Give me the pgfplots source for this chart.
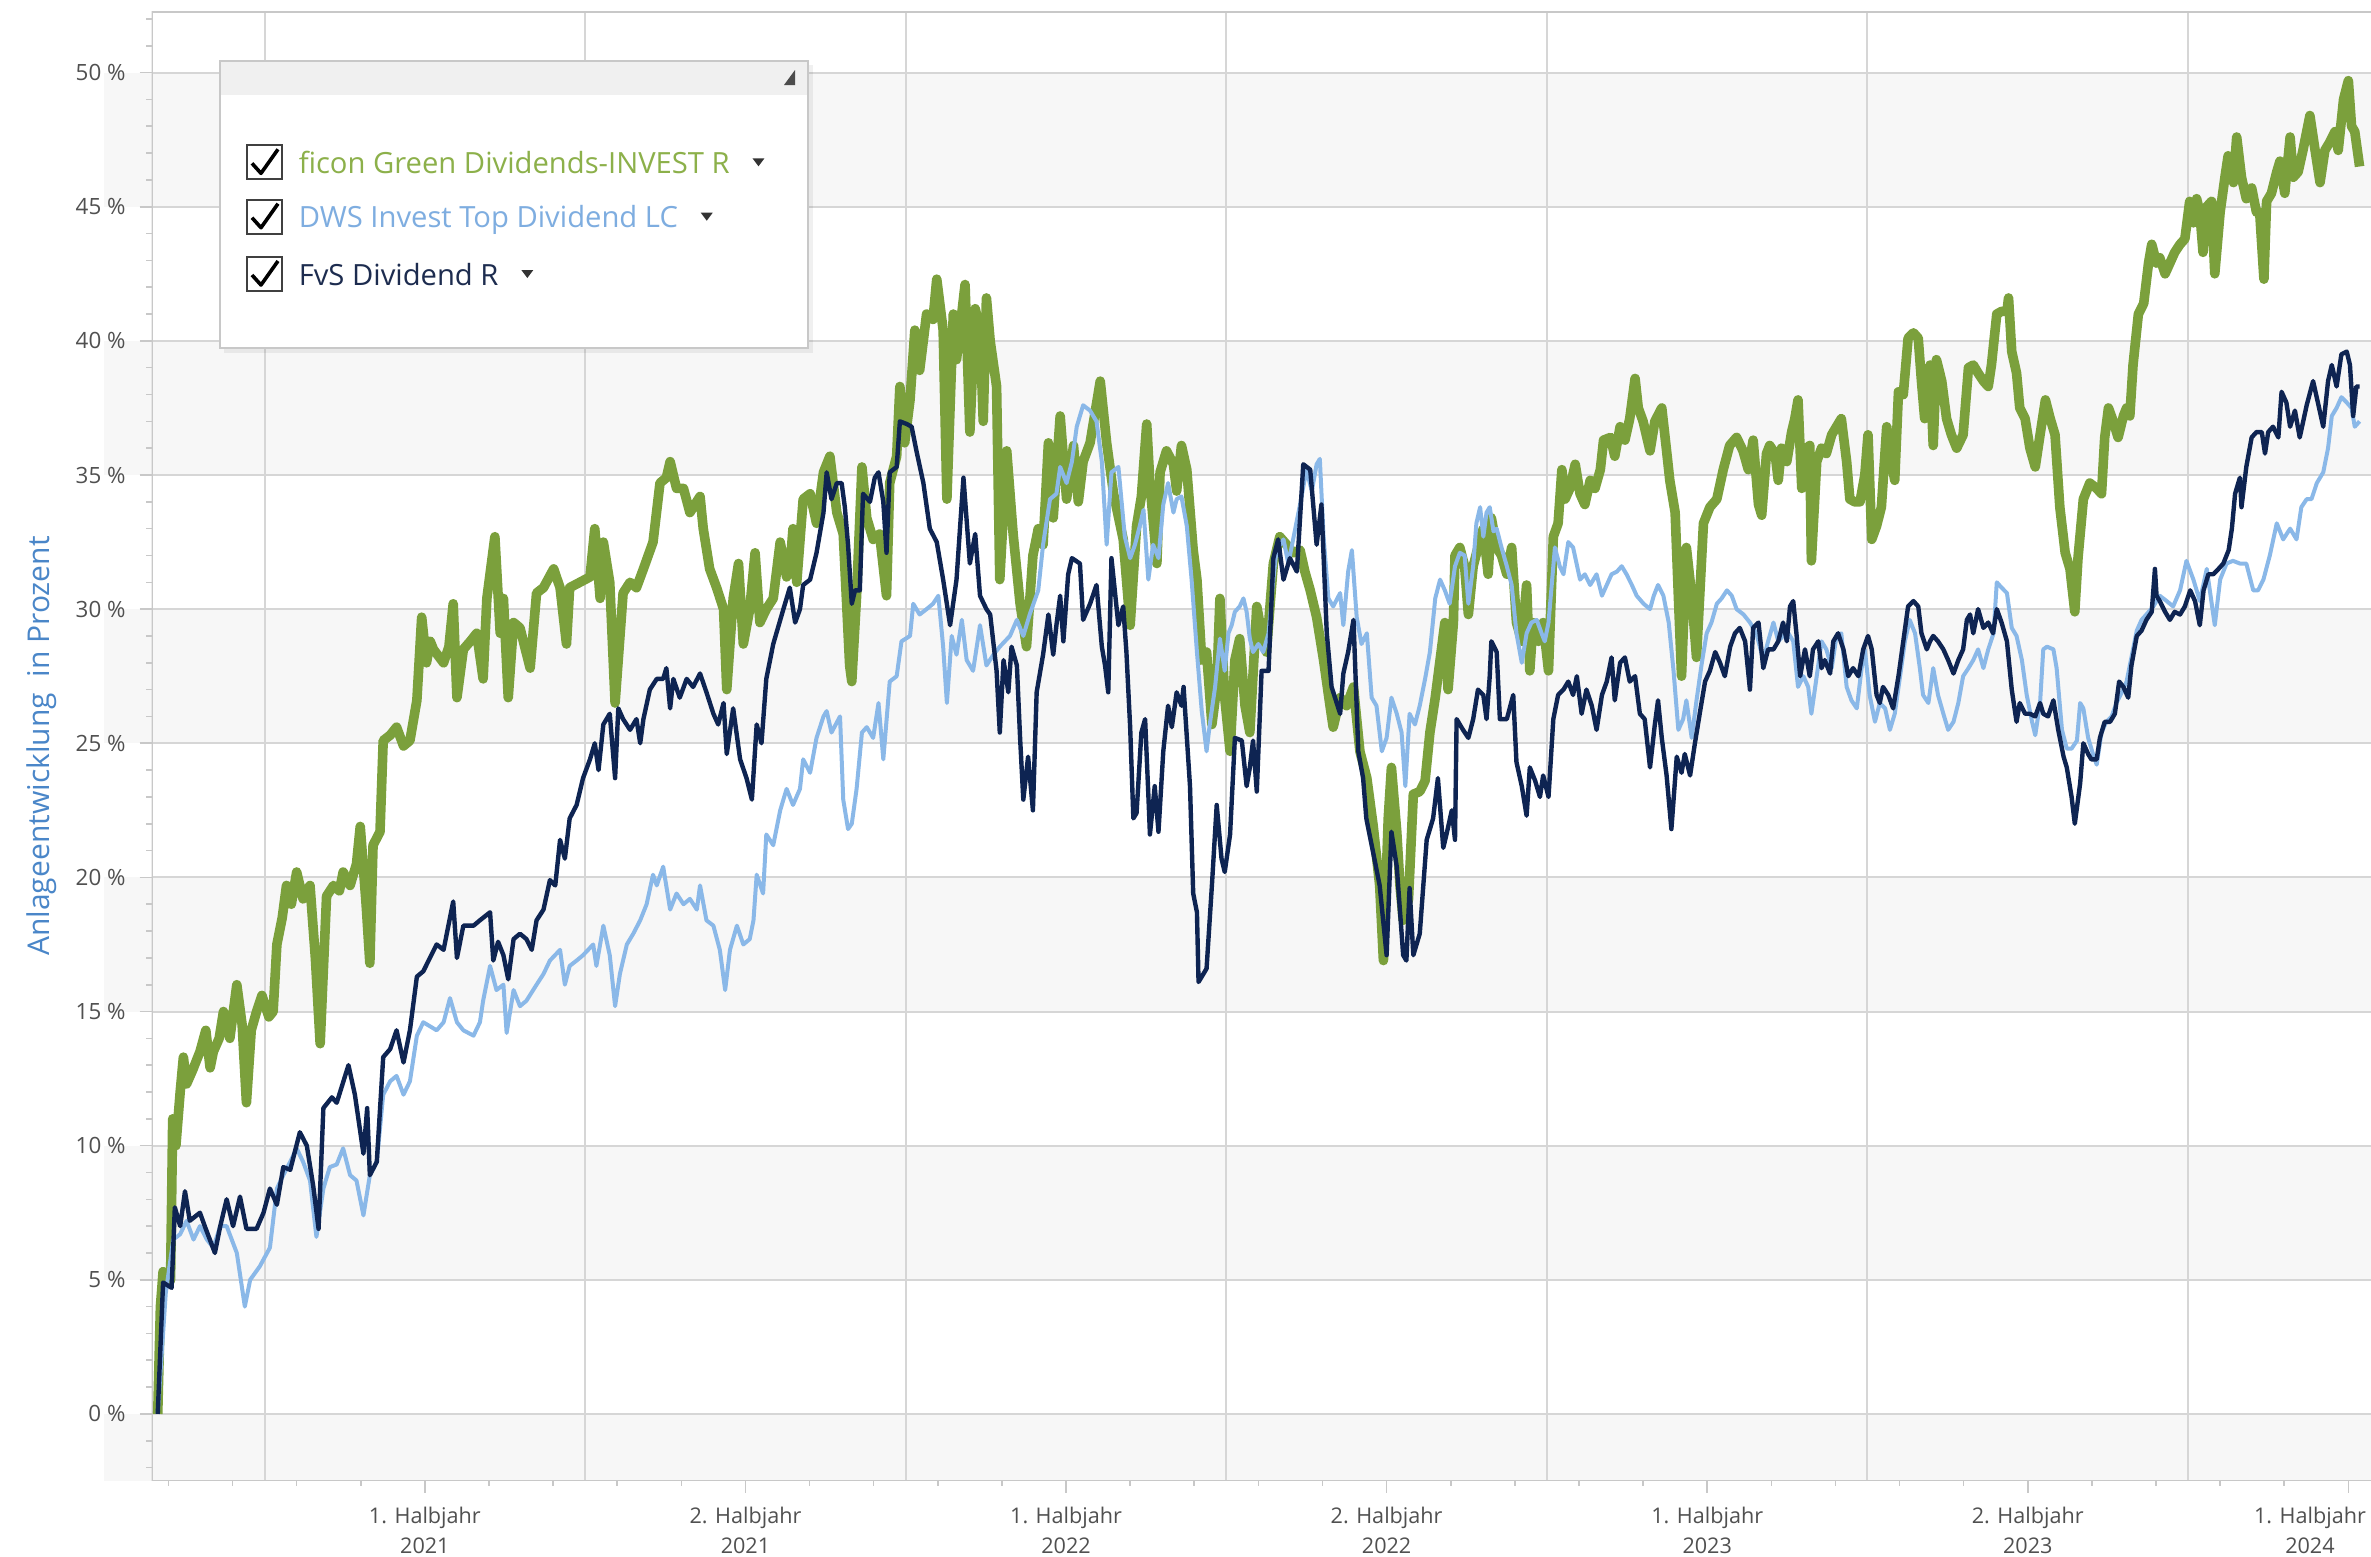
\documentclass[border=0pt]{standalone}
\usepackage{fontspec}
\setmainfont{Open Sans}
\usepackage{pgfplots}
\pgfplotsset{compat=1.18}
\usepackage{pgfplotstable}

\definecolor{gr}{RGB}{123,160,60}
\definecolor{lb}{RGB}{138,184,232}
\definecolor{nv}{RGB}{14,36,82}
\definecolor{gridc}{RGB}{214,214,214}
\definecolor{framec}{RGB}{200,200,200}
\definecolor{band}{RGB}{247,247,247}
\definecolor{ticklab}{RGB}{80,80,80}
\definecolor{ylab}{RGB}{74,134,200}
\definecolor{grtext}{RGB}{140,176,74}
\definecolor{lbtext}{RGB}{126,173,224}
\definecolor{nvtext}{RGB}{29,44,79}

% x: months since 1 Jan 2021, y: performance in percent
\pgfplotstableread{
m v
-2.00 0
-1.95 4.0
-1.90 5.3
-1.76 5.0
-1.72 11.0
-1.66 10.0
-1.58 12.0
-1.52 13.3
-1.46 12.3
-1.35 12.8
-1.21 13.5
-1.10 14.3
-1.02 12.9
-0.96 13.5
-0.85 14.0
-0.77 15.0
-0.65 14.0
-0.52 16.0
-0.42 14.5
-0.34 11.6
-0.25 14.3
-0.15 15.0
-0.05 15.6
0.08 14.8
0.16 15.0
0.23 17.5
0.33 18.5
0.41 19.7
0.50 19.0
0.60 20.2
0.72 19.2
0.85 19.7
0.95 17.0
1.04 13.8
1.16 19.3
1.29 19.7
1.40 19.5
1.47 20.2
1.60 19.7
1.72 20.5
1.79 21.9
1.90 19.0
1.97 16.8
2.03 21.2
2.16 21.7
2.22 25.1
2.35 25.3
2.47 25.6
2.60 24.9
2.72 25.1
2.85 26.6
2.94 29.7
3.03 28.0
3.10 28.8
3.16 28.5
3.35 28.0
3.45 28.6
3.53 30.2
3.60 26.7
3.72 28.5
3.85 28.8
3.97 29.1
4.09 27.4
4.16 30.4
4.31 32.7
4.41 29.1
4.47 30.4
4.56 26.7
4.66 29.5
4.78 29.3
4.97 27.8
5.09 30.6
5.22 30.8
5.41 31.5
5.53 30.8
5.65 28.7
5.71 30.8
5.90 31.0
6.09 31.2
6.18 33.0
6.28 30.4
6.34 32.5
6.46 31.0
6.56 26.5
6.71 30.6
6.84 31.0
6.96 30.8
7.09 31.5
7.27 32.5
7.40 34.7
7.52 34.9
7.59 35.5
7.71 34.5
7.84 34.5
7.96 33.6
8.15 34.2
8.21 33.0
8.33 31.5
8.46 30.8
8.59 30.0
8.65 27.0
8.77 30.4
8.87 31.7
8.96 28.7
9.08 30.0
9.18 32.1
9.27 29.5
9.39 30.0
9.52 30.4
9.65 32.5
9.77 31.2
9.83 31.5
9.89 33.0
9.96 31.0
10.08 34.1
10.21 34.3
10.33 33.2
10.46 35.1
10.58 35.7
10.71 33.6
10.83 32.8
10.95 27.9
10.99 27.3
11.08 30.5
11.18 35.3
11.27 33.4
11.39 32.6
11.51 32.8
11.64 30.5
11.70 34.7
11.83 35.7
11.89 38.3
11.98 36.2
12.08 37.8
12.17 40.4
12.26 38.9
12.39 41.0
12.51 40.8
12.58 42.3
12.70 40.4
12.77 34.1
12.89 41.0
12.95 39.3
13.11 42.1
13.20 36.6
13.30 41.2
13.39 40.4
13.45 37.0
13.51 41.6
13.58 40.0
13.70 38.3
13.76 31.1
13.89 35.9
14.01 32.8
14.14 30.2
14.26 28.6
14.38 32.0
14.48 33.0
14.57 32.4
14.67 36.2
14.76 33.4
14.89 37.2
15.01 34.1
15.14 36.1
15.23 34.0
15.32 35.5
15.45 36.2
15.64 38.5
15.76 36.2
15.89 34.3
16.07 32.6
16.20 29.4
16.32 33.1
16.41 34.2
16.51 36.9
16.57 34.7
16.70 31.7
16.76 35.1
16.88 35.9
17.01 35.4
17.07 34.4
17.16 36.1
17.26 35.2
17.38 32.2
17.45 31.1
17.54 28.1
17.63 28.4
17.73 25.7
17.82 27.1
17.88 30.4
17.97 26.7
18.07 24.7
18.16 28.1
18.25 28.9
18.35 26.4
18.44 25.4
18.57 30.1
18.66 29.1
18.75 28.4
18.88 31.7
18.94 32.2
19.00 32.7
19.13 32.4
19.25 32.1
19.38 32.2
19.47 31.4
19.57 30.7
19.69 29.7
19.82 28.1
19.94 26.4
20.00 25.6
20.13 26.7
20.25 26.4
20.38 27.1
20.50 24.7
20.63 23.7
20.75 21.9
20.87 19.7
20.94 16.9
21.03 22.2
21.09 24.1
21.19 21.7
21.25 19.7
21.31 18.4
21.41 19.2
21.50 23.1
21.62 23.2
21.72 23.6
21.81 25.4
21.91 26.7
22.00 28.1
22.09 29.5
22.15 27.0
22.25 29.5
22.28 32.0
22.37 32.3
22.46 31.6
22.53 29.8
22.62 31.6
22.71 32.3
22.81 33.0
22.90 31.3
22.96 33.4
23.06 32.3
23.15 32.0
23.25 31.3
23.34 32.3
23.43 29.5
23.53 28.8
23.62 30.9
23.68 27.7
23.74 29.5
23.84 28.8
23.93 29.5
24.03 27.7
24.12 32.7
24.21 33.2
24.28 35.2
24.34 34.1
24.43 34.5
24.53 35.4
24.62 34.3
24.71 33.9
24.81 34.8
24.90 34.5
25.00 35.2
25.06 36.3
25.19 36.4
25.27 35.7
25.37 36.8
25.46 36.3
25.55 37.1
25.65 38.6
25.71 37.5
25.80 37.0
25.93 35.9
26.02 37.0
26.15 37.5
26.24 35.9
26.30 34.8
26.40 33.6
26.46 30.5
26.52 27.5
26.61 32.3
26.71 30.5
26.80 28.2
26.86 30.5
26.93 33.2
27.05 33.8
27.18 34.1
27.30 35.2
27.42 36.1
27.55 36.4
27.67 35.9
27.77 35.2
27.86 36.3
27.96 33.9
28.02 33.5
28.11 35.8
28.17 36.1
28.27 35.8
28.33 34.8
28.39 36.0
28.49 35.5
28.58 36.6
28.64 37.1
28.70 37.8
28.77 34.5
28.86 36.0
28.92 36.1
28.95 31.8
29.05 35.5
29.14 36.0
29.23 35.8
29.33 36.5
29.42 36.8
29.51 37.1
29.61 35.5
29.67 34.1
29.76 34.0
29.86 34.0
29.95 35.0
30.01 36.5
30.08 32.6
30.17 33.1
30.26 33.8
30.36 36.8
30.42 35.8
30.51 34.8
30.58 38.1
30.67 38.0
30.76 40.1
30.86 40.3
30.95 40.1
31.01 38.5
31.07 37.1
31.17 39.1
31.23 36.1
31.29 39.3
31.39 38.5
31.48 37.1
31.57 36.5
31.67 36.0
31.79 36.5
31.89 39.0
31.98 39.1
32.07 38.8
32.17 38.5
32.26 38.3
32.32 39.1
32.42 41.0
32.51 41.1
32.61 41.1
32.64 41.6
32.70 39.6
32.79 38.8
32.85 37.5
32.95 37.1
33.04 36.0
33.14 35.3
33.23 36.5
33.33 37.8
33.42 37.1
33.51 36.5
33.60 33.8
33.70 32.1
33.79 31.5
33.88 29.9
33.94 31.9
34.04 34.1
34.16 34.7
34.29 34.5
34.38 34.3
34.44 36.4
34.51 37.5
34.60 37.0
34.69 36.4
34.79 37.2
34.85 37.5
34.91 37.2
34.97 39.1
35.07 41.0
35.17 41.4
35.26 42.9
35.32 43.6
35.41 42.9
35.47 43.1
35.57 42.5
35.66 42.9
35.75 43.3
35.85 43.6
35.94 43.8
36.03 45.2
36.10 44.4
36.16 45.3
36.22 44.8
36.28 43.3
36.35 45.0
36.44 45.2
36.50 42.5
36.60 44.8
36.69 46.1
36.75 46.9
36.85 45.9
36.91 47.6
37.00 46.1
37.09 45.3
37.19 45.7
37.28 44.8
37.34 44.8
37.42 42.3
37.47 45.2
37.56 45.5
37.66 46.3
37.72 46.7
37.81 45.5
37.91 47.6
37.97 46.1
38.06 46.3
38.15 47.1
38.28 48.4
38.37 47.2
38.47 45.9
38.56 47.1
38.65 47.4
38.75 47.8
38.81 47.1
38.91 49.0
39.00 49.7
39.06 48.0
39.12 47.8
39.21 46.5
}\ficon

\pgfplotstableread{
m v
-2.00 0
-1.93 2.1
-1.85 4.5
-1.71 6.5
-1.58 6.7
-1.46 7.2
-1.33 6.5
-1.21 7.0
-1.08 6.5
-0.96 6.2
-0.83 7.0
-0.71 7.0
-0.52 6.0
-0.37 4.0
-0.27 5.0
-0.09 5.5
0.10 6.2
0.23 8.4
0.35 8.9
0.48 9.4
0.60 9.9
0.72 9.4
0.85 8.7
0.97 6.6
1.10 8.4
1.22 9.2
1.35 9.3
1.47 9.9
1.60 8.9
1.72 8.7
1.85 7.4
1.97 8.9
2.10 9.4
2.22 11.9
2.35 12.4
2.47 12.6
2.60 11.9
2.72 12.4
2.85 14.1
2.97 14.6
3.22 14.3
3.35 14.6
3.47 15.5
3.60 14.6
3.72 14.3
3.91 14.1
4.03 14.6
4.09 15.4
4.22 16.7
4.34 15.8
4.47 16.0
4.53 14.2
4.66 15.8
4.78 15.2
4.90 15.4
5.09 16.0
5.22 16.4
5.34 16.9
5.53 17.3
5.62 16.0
5.71 16.7
5.84 16.9
5.96 17.1
6.15 17.5
6.21 16.7
6.34 18.2
6.46 17.1
6.56 15.2
6.65 16.4
6.78 17.5
6.90 17.9
7.03 18.4
7.15 19.0
7.27 20.1
7.34 19.7
7.46 20.4
7.59 18.8
7.71 19.4
7.84 19.0
7.96 19.2
8.09 18.8
8.15 19.7
8.27 18.4
8.40 18.2
8.52 17.3
8.62 15.8
8.71 17.3
8.84 18.2
8.96 17.5
9.08 17.7
9.15 18.4
9.21 20.1
9.33 19.4
9.39 21.6
9.52 21.2
9.65 22.5
9.77 23.3
9.89 22.7
10.02 23.3
10.08 24.4
10.21 23.9
10.33 25.2
10.46 26.0
10.52 26.2
10.61 25.4
10.77 26.0
10.83 22.9
10.92 21.8
10.99 22.0
11.08 23.3
11.18 25.4
11.27 25.6
11.39 25.2
11.49 26.5
11.58 24.4
11.70 27.3
11.83 27.5
11.92 28.8
12.08 29.0
12.14 30.2
12.26 29.8
12.39 30.0
12.51 30.2
12.61 30.5
12.70 28.6
12.77 26.5
12.86 29.0
12.95 28.3
13.05 29.6
13.14 28.1
13.26 27.7
13.39 29.4
13.51 27.9
13.64 28.3
13.76 28.6
13.95 29.0
14.08 29.6
14.20 29.0
14.32 29.8
14.48 30.7
14.57 32.4
14.70 34.1
14.82 34.3
14.89 35.3
15.01 34.7
15.11 35.5
15.20 36.8
15.32 37.6
15.45 37.4
15.57 37.0
15.67 35.5
15.76 32.4
15.85 35.1
15.98 35.3
16.10 32.7
16.20 31.9
16.29 32.4
16.38 33.1
16.45 33.7
16.54 31.1
16.63 32.4
16.73 31.9
16.82 33.9
16.91 34.7
17.01 33.6
17.07 34.1
17.16 34.2
17.26 33.1
17.35 31.1
17.45 28.4
17.54 26.2
17.63 24.7
17.69 25.7
17.79 27.1
17.88 28.9
17.97 27.7
18.04 29.1
18.10 29.4
18.16 29.9
18.25 30.1
18.32 30.4
18.38 29.9
18.44 28.9
18.50 28.4
18.60 28.7
18.69 28.4
18.79 29.1
18.88 31.1
18.94 32.2
19.07 32.6
19.16 31.7
19.25 32.6
19.38 33.9
19.50 35.2
19.60 34.4
19.69 35.4
19.75 35.6
19.82 32.7
19.91 30.4
20.00 30.1
20.13 30.6
20.19 29.4
20.28 31.4
20.35 32.2
20.44 29.7
20.53 28.7
20.63 29.1
20.72 26.7
20.81 26.4
20.91 24.7
21.00 25.2
21.09 26.7
21.19 26.1
21.28 25.4
21.35 23.4
21.43 26.1
21.53 25.7
21.62 26.4
21.72 27.4
21.81 28.4
21.91 30.4
22.00 31.1
22.09 30.7
22.18 30.2
22.28 31.6
22.37 32.1
22.46 32.0
22.53 30.2
22.62 31.6
22.68 33.2
22.75 33.8
22.81 32.7
22.87 33.6
22.93 33.8
23.00 32.9
23.06 33.0
23.15 32.3
23.25 31.6
23.34 30.9
23.43 29.1
23.53 28.0
23.62 29.1
23.71 29.5
23.81 29.6
23.90 29.1
23.96 28.8
24.03 29.5
24.09 30.9
24.15 32.3
24.24 31.6
24.31 31.3
24.40 32.5
24.49 32.3
24.62 31.1
24.71 31.3
24.81 30.9
24.93 31.3
25.03 30.5
25.12 30.9
25.21 31.3
25.31 31.4
25.40 31.6
25.49 31.3
25.59 30.9
25.68 30.5
25.81 30.2
25.93 30.0
26.00 30.5
26.08 30.9
26.18 30.5
26.28 29.5
26.37 27.7
26.46 25.5
26.55 25.9
26.61 26.6
26.71 25.2
26.80 26.6
26.90 28.0
26.99 29.1
27.08 29.5
27.18 30.2
27.27 30.4
27.37 30.7
27.46 30.5
27.55 30.0
27.68 29.8
27.80 29.5
27.92 29.1
28.05 28.1
28.14 28.8
28.24 29.5
28.33 28.8
28.42 29.0
28.52 29.1
28.61 28.8
28.70 27.1
28.80 27.5
28.89 27.1
28.95 26.1
29.05 27.5
29.14 28.8
29.23 28.5
29.33 27.8
29.42 29.0
29.51 29.1
29.61 27.1
29.70 26.6
29.80 26.3
29.89 27.8
29.95 28.5
30.04 26.8
30.14 25.8
30.23 26.5
30.33 26.3
30.42 25.5
30.51 26.1
30.61 27.5
30.70 28.8
30.79 29.6
30.89 29.1
30.98 27.8
31.04 26.8
31.14 26.5
31.23 27.8
31.32 26.8
31.42 26.1
31.51 25.5
31.61 25.8
31.70 26.5
31.79 27.5
31.89 27.8
31.98 28.1
32.07 28.5
32.17 27.8
32.26 28.5
32.36 29.1
32.42 31.0
32.51 30.8
32.61 30.6
32.70 29.3
32.79 29.0
32.89 28.1
32.98 26.8
33.08 25.8
33.14 25.3
33.23 26.5
33.29 28.5
33.36 28.6
33.48 28.5
33.54 27.8
33.64 25.5
33.73 24.8
33.82 24.8
33.92 25.1
33.98 26.5
34.04 26.3
34.13 25.2
34.22 24.6
34.29 24.2
34.38 25.4
34.47 25.8
34.57 26.0
34.66 26.5
34.76 26.9
34.85 27.3
34.94 28.2
35.04 29.2
35.13 29.6
35.22 29.8
35.35 30.1
35.47 30.5
35.60 30.3
35.72 30.1
35.85 30.7
35.97 31.8
36.10 31.1
36.22 30.3
36.35 31.5
36.50 29.4
36.60 31.1
36.72 31.7
36.84 31.8
36.97 31.7
37.09 31.7
37.22 30.7
37.31 30.7
37.41 31.1
37.53 32.0
37.66 33.2
37.78 32.6
37.91 33.0
38.03 32.6
38.12 33.8
38.22 34.1
38.31 34.1
38.41 34.7
38.53 35.1
38.62 36.0
38.69 37.2
38.78 37.5
38.87 37.9
38.97 37.7
39.06 37.5
39.12 36.8
39.21 37.0
}\dws

\pgfplotstableread{
m v
-2.00 0
-1.90 4.9
-1.74 4.7
-1.68 7.7
-1.58 7.0
-1.49 8.3
-1.40 7.2
-1.21 7.5
-1.12 7.0
-0.93 6.0
-0.83 7.0
-0.71 8.0
-0.59 7.0
-0.46 8.1
-0.34 6.9
-0.15 6.9
-0.02 7.5
0.10 8.4
0.23 7.8
0.35 9.2
0.48 9.1
0.66 10.5
0.79 10.0
0.91 8.5
1.01 6.9
1.10 11.4
1.26 11.8
1.35 11.6
1.57 13.0
1.69 11.9
1.85 9.7
1.92 11.4
1.97 8.9
2.10 9.4
2.22 13.3
2.35 13.6
2.47 14.3
2.60 13.1
2.72 14.3
2.85 16.3
2.97 16.5
3.22 17.5
3.35 17.3
3.53 19.1
3.60 17.0
3.72 18.2
3.91 18.2
4.03 18.4
4.22 18.7
4.28 16.9
4.37 17.6
4.47 17.1
4.56 16.2
4.66 17.7
4.78 17.9
4.90 17.7
5.00 17.3
5.09 18.4
5.22 18.8
5.34 19.9
5.44 19.7
5.53 21.4
5.62 20.7
5.71 22.2
5.84 22.7
5.96 23.7
6.09 24.4
6.18 25.0
6.25 24.0
6.34 25.7
6.46 26.1
6.56 23.7
6.62 26.3
6.71 25.9
6.84 25.5
6.96 25.9
7.03 25.0
7.09 25.9
7.21 27.0
7.34 27.4
7.46 27.4
7.52 27.8
7.59 26.3
7.65 27.4
7.77 26.7
7.90 27.4
8.02 27.1
8.15 27.6
8.27 26.9
8.40 26.1
8.49 25.7
8.59 26.5
8.65 24.6
8.77 26.3
8.90 24.4
9.02 23.7
9.12 22.9
9.21 25.7
9.30 25.0
9.39 27.4
9.52 28.7
9.71 30.0
9.83 30.8
9.93 29.5
10.02 30.0
10.08 30.9
10.21 31.1
10.33 32.1
10.46 33.6
10.52 35.1
10.61 34.1
10.71 34.7
10.80 34.7
10.86 33.8
10.92 32.4
10.99 30.2
11.05 30.7
11.14 30.7
11.20 34.3
11.33 34.0
11.42 34.9
11.49 35.1
11.58 34.0
11.64 32.1
11.70 35.1
11.83 35.3
11.89 37.0
12.02 36.9
12.11 36.8
12.20 35.9
12.33 34.7
12.45 33.0
12.58 32.5
12.70 31.1
12.83 29.4
12.95 31.1
13.08 34.9
13.20 31.7
13.30 32.8
13.39 30.5
13.51 30.0
13.58 29.8
13.70 27.7
13.76 25.4
13.83 28.1
13.92 26.9
13.98 28.6
14.08 27.9
14.14 25.2
14.20 22.9
14.29 24.5
14.38 22.5
14.45 26.9
14.57 28.3
14.67 29.8
14.76 28.3
14.82 29.4
14.89 30.5
14.95 28.8
15.04 31.3
15.11 31.9
15.26 31.7
15.32 29.6
15.45 30.2
15.57 30.9
15.67 28.6
15.73 27.9
15.79 26.9
15.85 31.9
15.98 29.4
16.07 30.1
16.13 28.4
16.20 25.6
16.26 22.2
16.32 22.4
16.41 25.4
16.48 25.9
16.54 23.1
16.57 21.6
16.66 23.4
16.73 21.7
16.82 24.7
16.91 26.4
16.98 25.6
17.07 26.9
17.16 26.4
17.20 27.1
17.32 23.4
17.38 19.4
17.45 18.7
17.48 16.1
17.63 16.6
17.73 19.7
17.82 22.7
17.91 20.7
17.97 20.2
18.07 21.6
18.16 25.2
18.29 25.1
18.38 23.4
18.44 24.1
18.50 25.1
18.57 23.2
18.66 27.7
18.79 27.7
18.88 31.9
18.97 32.6
19.07 31.1
19.19 31.9
19.32 31.4
19.44 35.4
19.57 35.2
19.69 32.4
19.78 33.9
19.88 29.1
19.97 27.1
20.13 26.1
20.19 27.6
20.28 28.4
20.38 29.6
20.47 24.7
20.56 23.7
20.62 22.2
20.75 20.9
20.87 19.7
21.00 17.1
21.09 21.7
21.19 20.4
21.31 17.1
21.37 16.9
21.43 19.6
21.50 17.1
21.62 17.9
21.75 21.4
21.87 22.2
21.96 23.7
22.06 21.1
22.12 21.6
22.22 22.5
22.28 21.4
22.31 25.9
22.43 25.5
22.53 25.2
22.62 25.9
22.71 27.0
22.81 26.8
22.87 25.9
22.93 27.5
22.96 28.8
23.06 28.4
23.12 25.9
23.25 25.9
23.37 26.8
23.43 24.3
23.53 23.4
23.62 22.3
23.68 24.1
23.78 23.6
23.87 23.0
23.93 23.8
24.03 23.0
24.12 25.9
24.21 26.8
24.31 27.0
24.40 27.3
24.49 26.8
24.56 27.5
24.65 26.1
24.74 27.0
24.84 26.4
24.93 25.5
25.03 26.8
25.12 27.3
25.21 28.2
25.27 26.6
25.37 28.0
25.46 28.2
25.55 27.3
25.65 27.5
25.74 26.1
25.83 25.9
25.93 24.1
26.02 25.7
26.08 26.6
26.15 25.2
26.24 23.8
26.33 21.8
26.43 24.5
26.52 23.9
26.58 24.6
26.68 23.8
26.77 25.0
26.86 26.1
26.96 27.3
27.05 27.7
27.15 28.4
27.24 28.0
27.33 27.5
27.43 28.6
27.52 29.1
27.61 29.3
27.71 28.8
27.80 27.0
27.86 29.3
27.96 29.5
28.05 27.8
28.14 28.5
28.24 28.5
28.33 28.8
28.42 29.5
28.49 28.8
28.55 30.1
28.61 30.3
28.67 29.1
28.74 27.5
28.83 28.5
28.92 27.5
28.98 28.5
29.08 28.8
29.14 27.8
29.20 28.1
29.30 27.6
29.36 28.8
29.45 29.1
29.55 28.5
29.64 27.5
29.73 27.8
29.83 27.5
29.92 28.5
30.01 29.0
30.08 28.5
30.17 26.8
30.23 26.5
30.29 27.1
30.39 26.8
30.48 26.3
30.58 27.5
30.67 28.8
30.76 30.1
30.86 30.3
30.95 30.1
31.01 29.1
31.11 28.5
31.17 28.8
31.23 29.0
31.32 28.8
31.42 28.5
31.51 28.1
31.61 27.6
31.70 28.1
31.79 28.5
31.86 29.6
31.92 29.8
31.98 29.1
32.07 30.0
32.17 29.3
32.26 29.5
32.35 29.1
32.42 30.0
32.51 29.5
32.61 28.8
32.70 27.0
32.79 25.8
32.85 26.5
32.95 26.1
33.04 26.1
33.14 26.0
33.23 26.5
33.29 26.1
33.38 26.0
33.48 26.6
33.57 25.5
33.67 24.5
33.73 24.1
33.82 23.0
33.88 22.0
33.98 23.5
34.04 25.0
34.13 24.6
34.19 24.4
34.29 24.4
34.35 25.2
34.44 25.8
34.54 25.8
34.63 26.1
34.71 27.3
34.79 27.1
34.88 26.7
34.94 27.9
35.04 29.0
35.13 29.2
35.22 29.6
35.32 29.9
35.38 31.5
35.41 30.5
35.47 30.3
35.57 29.9
35.66 29.6
35.75 29.9
35.85 29.8
35.94 30.1
36.04 30.7
36.13 30.3
36.22 29.4
36.29 30.7
36.38 31.3
36.47 31.3
36.57 31.5
36.66 31.7
36.76 32.2
36.82 33.0
36.88 34.3
36.97 34.9
37.00 33.8
37.09 35.3
37.19 36.4
37.28 36.6
37.38 36.6
37.44 35.8
37.50 36.6
37.59 36.8
37.69 36.4
37.75 38.1
37.84 37.7
37.91 36.8
38.00 37.4
38.09 36.4
38.22 37.6
38.34 38.5
38.43 37.7
38.53 36.8
38.62 38.5
38.69 39.1
38.78 38.3
38.87 39.5
38.97 39.6
39.03 39.1
39.09 37.2
39.15 38.3
39.21 38.3
}\fvs

\begin{document}
\begin{tikzpicture}
\begin{axis}[
  set layers=standard,
  at={(37.925pt,-370.175pt)}, anchor=south west,
  scale only axis, width=554.825pt, height=367.25pt,
  xmin=-2.113, xmax=39.424, ymin=-2.49, ymax=52.27,
  axis line style={draw=none},
  tick align=outside,
  xtick pos=bottom, ytick pos=left,
  major tick length=3pt, minor tick length=1.3pt,
  tick style={framec, line width=0.4pt},
  xtick={3,9,15,21,27,33},
  xticklabels={{1. Halbjahr\\2021},{2. Halbjahr\\2021},{1. Halbjahr\\2022},{2. Halbjahr\\2022},{1. Halbjahr\\2023},{2. Halbjahr\\2023}},
  extra x ticks={39},
  extra x tick labels={{1. Halbjahr\\2024}},
  extra x tick style={xticklabel style={xshift=-9.6pt}},
  minor xtick={-1.8,-0.6,...,39.1},
  xticklabel style={align=center, font=\fontsize{5.4}{7.5}\selectfont, text=ticklab},
  ytick={0,5,...,50},
  yticklabels={0 \%,5 \%,10 \%,15 \%,20 \%,25 \%,30 \%,35 \%,40 \%,45 \%,50 \%},
  minor ytick={-2,-1,...,52},
  yticklabel style={font=\fontsize{5.6}{6.7}\selectfont, text=ticklab},
  ymajorgrids,
  major grid style={gridc, line width=0.5pt},
]
\begin{pgfonlayer}{axis background}
  \fill[band] (axis cs:-3,-2.49) rectangle (axis cs:40,0);
  \fill[band] (axis cs:-3,5) rectangle (axis cs:40,10);
  \fill[band] (axis cs:-3,15) rectangle (axis cs:40,20);
  \fill[band] (axis cs:-3,25) rectangle (axis cs:40,30);
  \fill[band] (axis cs:-3,35) rectangle (axis cs:40,40);
  \fill[band] (axis cs:-3,45) rectangle (axis cs:40,50);
\end{pgfonlayer}
\draw[gridc, line width=0.5pt] (axis cs:0,-2.49) -- (axis cs:0,52.27);
\draw[gridc, line width=0.5pt] (axis cs:6,-2.49) -- (axis cs:6,52.27);
\draw[gridc, line width=0.5pt] (axis cs:12,-2.49) -- (axis cs:12,52.27);
\draw[gridc, line width=0.5pt] (axis cs:18,-2.49) -- (axis cs:18,52.27);
\draw[gridc, line width=0.5pt] (axis cs:24,-2.49) -- (axis cs:24,52.27);
\draw[gridc, line width=0.5pt] (axis cs:30,-2.49) -- (axis cs:30,52.27);
\draw[gridc, line width=0.5pt] (axis cs:36,-2.49) -- (axis cs:36,52.27);
\draw[framec, line width=0.5pt] (rel axis cs:1,1) -- (rel axis cs:0,1) -- (rel axis cs:0,0) -- (rel axis cs:1,0);

\addplot[gr, line width=2.4pt, line join=round] table[x=m, y=v] {\ficon};
\addplot[lb, line width=1.0pt, line join=round] table[x=m, y=v] {\dws};
\addplot[nv, line width=1.1pt, line join=round] table[x=m, y=v] {\fvs};
\end{axis}

\begin{scope}[x=0.25pt, y=-0.25pt]
  % y axis label
  \node[rotate=90, text=ylab, font=\fontsize{7.5}{9}\selectfont, inner sep=0pt] at (41.7,746) {Anlageentwicklung\ \ in Prozent};
  % legend box
  \fill[black, opacity=0.06] (224,65) rectangle (813,353);
  \fill[white] (219.7,61) rectangle (808,348);
  \fill[black!6] (219.7,61) rectangle (808,95);
  \draw[framec, line width=0.5pt] (219.7,61) rectangle (808,348);
  \fill[black!70] (795,70) -- (795,85) -- (784,85) -- cycle;
  % entries
  \foreach \cy/\col/\txt/\nm in {162.3/grtext/{ficon Green Dividends-INVEST R}/a, 216.7/lbtext/{DWS Invest Top Dividend LC}/b, 274/nvtext/{FvS Dividend R}/c}{
    \draw[black!75, line width=0.5pt, fill=white] (247,\cy-17) rectangle (282,\cy+17);
    \draw[black, line width=0.9pt, line join=round] (252,\cy+1) -- (261,\cy+11) -- (278,\cy-13);
    \node[anchor=base west, inner sep=0pt, text=\col, font=\fontsize{7.3}{8.8}\selectfont] (\nm) at (298,\cy+11) {\txt};
    \fill[black!80] (\nm.base east) ++(22,-15) -- ++(12,0) -- ++(-6,8) -- cycle;
  }
\end{scope}
\pgfresetboundingbox
\useasboundingbox (0,0) rectangle (592.75pt,-389pt);
\end{tikzpicture}
\end{document}
